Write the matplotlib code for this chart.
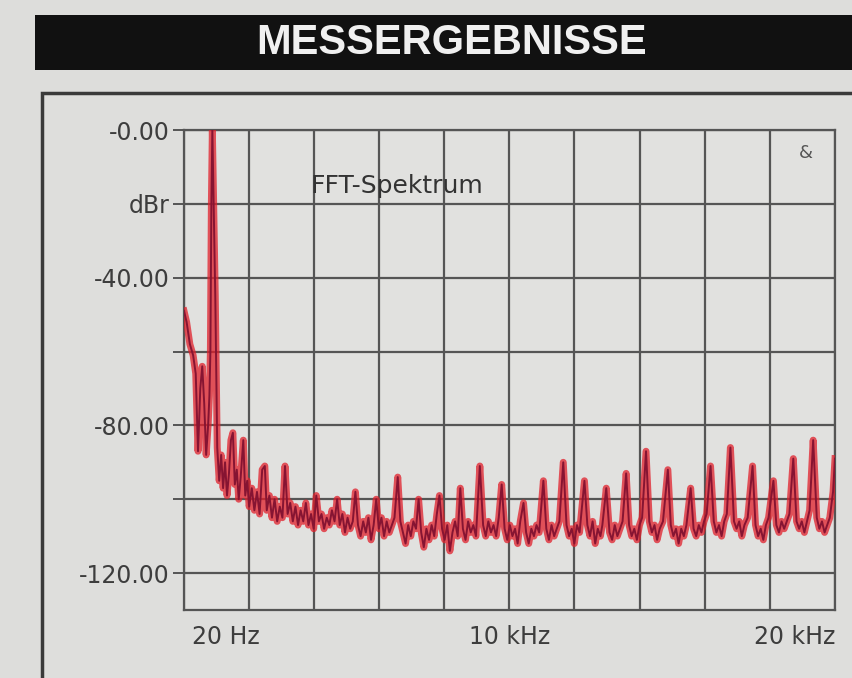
import matplotlib
matplotlib.use("Agg")
import matplotlib.pyplot as plt
from matplotlib.patches import Rectangle
from matplotlib.transforms import ScaledTranslation

# FFT spectrum (kHz, dBr)
freq_khz = [
    0.02, 0.10, 0.20, 0.30, 0.38, 0.45, 0.52, 0.58, 0.64, 0.70, 0.76, 0.80, 0.83, 0.86, 0.89, 0.93,
    0.98, 1.04, 1.10, 1.16, 1.22, 1.28, 1.34, 1.40, 1.46, 1.52, 1.58, 1.64, 1.70, 1.76, 1.84, 1.90,
    1.96, 2.02, 2.10, 2.18, 2.26, 2.34, 2.42, 2.50, 2.56, 2.64, 2.72, 2.80, 2.88, 2.96, 3.04, 3.12,
    3.20, 3.28, 3.36, 3.44, 3.52, 3.60, 3.68, 3.76, 3.84, 3.92, 4.00, 4.08, 4.16, 4.24, 4.32, 4.40,
    4.48, 4.56, 4.64, 4.72, 4.80, 4.88, 4.96, 5.04, 5.12, 5.20, 5.28, 5.36, 5.44, 5.52, 5.60, 5.68,
    5.76, 5.84, 5.92, 6.00, 6.08, 6.16, 6.24, 6.32, 6.40, 6.48, 6.58, 6.66, 6.74, 6.82, 6.90, 6.98,
    7.06, 7.14, 7.22, 7.30, 7.38, 7.46, 7.54, 7.62, 7.70, 7.78, 7.86, 7.94, 8.02, 8.10, 8.18, 8.26,
    8.34, 8.42, 8.50, 8.58, 8.66, 8.74, 8.82, 8.90, 8.98, 9.10, 9.20, 9.28, 9.36, 9.44, 9.52, 9.60,
    9.68, 9.77, 9.86, 9.94, 10.02, 10.10, 10.18, 10.26, 10.34, 10.44, 10.52, 10.60, 10.68, 10.76,
    10.84, 10.92, 11.05, 11.14, 11.22, 11.30, 11.38, 11.46, 11.54, 11.66, 11.76, 11.84, 11.92, 12.00,
    12.08, 12.16, 12.31, 12.40, 12.48, 12.56, 12.64, 12.72, 12.80, 12.86, 12.98, 13.08, 13.16, 13.24,
    13.32, 13.40, 13.48, 13.59, 13.68, 13.76, 13.84, 13.92, 14.00, 14.08, 14.20, 14.30, 14.38, 14.46,
    14.54, 14.62, 14.72, 14.87, 14.96, 15.04, 15.12, 15.20, 15.28, 15.36, 15.44, 15.57, 15.66, 15.74,
    15.82, 15.90, 15.98, 16.06, 16.18, 16.28, 16.36, 16.44, 16.52, 16.60, 16.68, 16.79, 16.90, 16.98,
    17.06, 17.14, 17.22, 17.32, 17.47, 17.56, 17.64, 17.72, 17.80, 17.88, 17.96, 18.11, 18.20, 18.28,
    18.36, 18.44, 18.52, 18.60, 18.72, 18.82, 18.90, 18.98, 19.06, 19.14, 19.22, 19.33, 19.44, 19.52,
    19.60, 19.68, 19.76, 19.84, 19.94, 20.00,
]
level_db = [
    -49, -52, -58, -61, -66, -87, -70, -64, -74, -88, -80, -72, -60, -20, 0, -20,
    -45, -86, -95, -88, -97, -90, -99, -93, -84, -82, -96, -92, -100, -94, -84, -99,
    -95, -102, -97, -103, -98, -104, -92, -91, -103, -99, -105, -100, -106, -102, -105, -91,
    -104, -101, -106, -102, -107, -103, -106, -101, -107, -104, -108, -99, -106, -104, -108, -105,
    -107, -103, -106, -100, -107, -104, -109, -105, -108, -106, -98, -107, -110, -106, -109, -105,
    -111, -107, -100, -108, -105, -110, -106, -109, -107, -105, -94, -106, -109, -112, -107, -110,
    -106, -108, -100, -109, -113, -108, -111, -107, -110, -104, -99, -108, -111, -107, -114, -109,
    -106, -110, -97, -108, -111, -106, -109, -107, -110, -91, -107, -110, -106, -109, -107, -110,
    -105, -96, -108, -111, -107, -110, -108, -112, -106, -101, -109, -112, -108, -110,
    -107, -109, -95, -108, -111, -107, -110, -108, -106, -90, -107, -110, -108, -112,
    -107, -109, -95, -107, -110, -106, -112, -108, -110, -107, -97, -109, -111, -107,
    -110, -108, -106, -93, -107, -110, -108, -111, -107, -105, -87, -106, -109, -107,
    -111, -108, -106, -92, -107, -110, -108, -112, -108, -110, -107, -97, -108, -110,
    -107, -109, -106, -104, -91, -106, -109, -107, -110, -106, -104, -86, -106, -108,
    -106, -110, -107, -105, -91, -107, -110, -108, -111, -107, -105, -95, -107, -109,
    -106, -108, -106, -104, -89, -106, -108, -106, -109, -106, -103, -84, -105, -108,
    -106, -109, -107, -105, -98, -89,
]

y_ticks = [0, -20, -40, -60, -80, -100, -120]
y_labels = ["-0.00", "dBr", "-40.00", "", "-80.00", "", "-120.00"]
x_ticks = [0.02, 2, 4, 6, 8, 10, 12, 14, 16, 18, 20]
x_labels = ["20 Hz", "", "", "", "", "10 kHz", "", "", "", "", "20 kHz"]

W, H = 852, 678
fig = plt.figure(figsize=(W / 100, H / 100), dpi=100)
fig.patch.set_facecolor("#dddddb")

# black header bar with title
fig.patches.append(Rectangle((35 / W, 1 - 70 / H), 1, 55 / H, transform=fig.transFigure,
                             facecolor="#111111", edgecolor="none", zorder=-2))
fig.text(452 / W, 1 - 43 / H, "MESSERGEBNISSE", color="#f0f0f0", fontsize=30,
         fontweight="bold", family=["Liberation Sans", "DejaVu Sans"],
         ha="center", va="center")

# frame around the measurement panel
fig.patches.append(Rectangle((42 / W, -0.05), 1, 1 - 93 / H + 0.05, transform=fig.transFigure,
                             facecolor="#dededc", edgecolor="#3a3a3a", linewidth=2.5,
                             zorder=-2))

ax = fig.add_axes([184 / W, 1 - 610 / H, 651 / W, 480 / H])
ax.set_facecolor("#e1e1df")

ax.plot(freq_khz, level_db, color="#e01f2b", linewidth=5, alpha=0.75, zorder=3)
ax.plot(freq_khz, level_db, color="#861432", linewidth=1.4, zorder=4)

ax.set_xlim(0.02, 20)
ax.set_ylim(-130, 0)
ax.set_yticks(y_ticks)
ax.set_yticklabels(y_labels)
ax.set_xticks(x_ticks)
ax.set_xticklabels(x_labels)
ax.grid(True, color="#555555", linewidth=1.6)
ax.set_axisbelow(True)

for side in ax.spines.values():
    side.set_color("#555555")
    side.set_linewidth(1.6)

ax.tick_params(axis="y", length=8, width=1.4, color="#555555", labelsize=17,
               labelcolor="#3d3d3d", pad=2)
ax.tick_params(axis="x", length=0, labelsize=17, labelcolor="#3d3d3d", pad=11)
xl = ax.get_xticklabels()
xl[0].set_ha("left")
xl[-1].set_ha("right")
xl[0].set_transform(xl[0].get_transform() + ScaledTranslation(6 / 72, 0, fig.dpi_scale_trans))

ax.text(0.195, 0.883, "FFT-Spektrum", transform=ax.transAxes, fontsize=18,
        color="#333333", ha="left", va="center")
ax.text(0.955, 0.97, "&", transform=ax.transAxes, fontsize=13,
        color="#555555", ha="center", va="top")

fig.savefig("out.png", dpi=100, facecolor=fig.get_facecolor())
